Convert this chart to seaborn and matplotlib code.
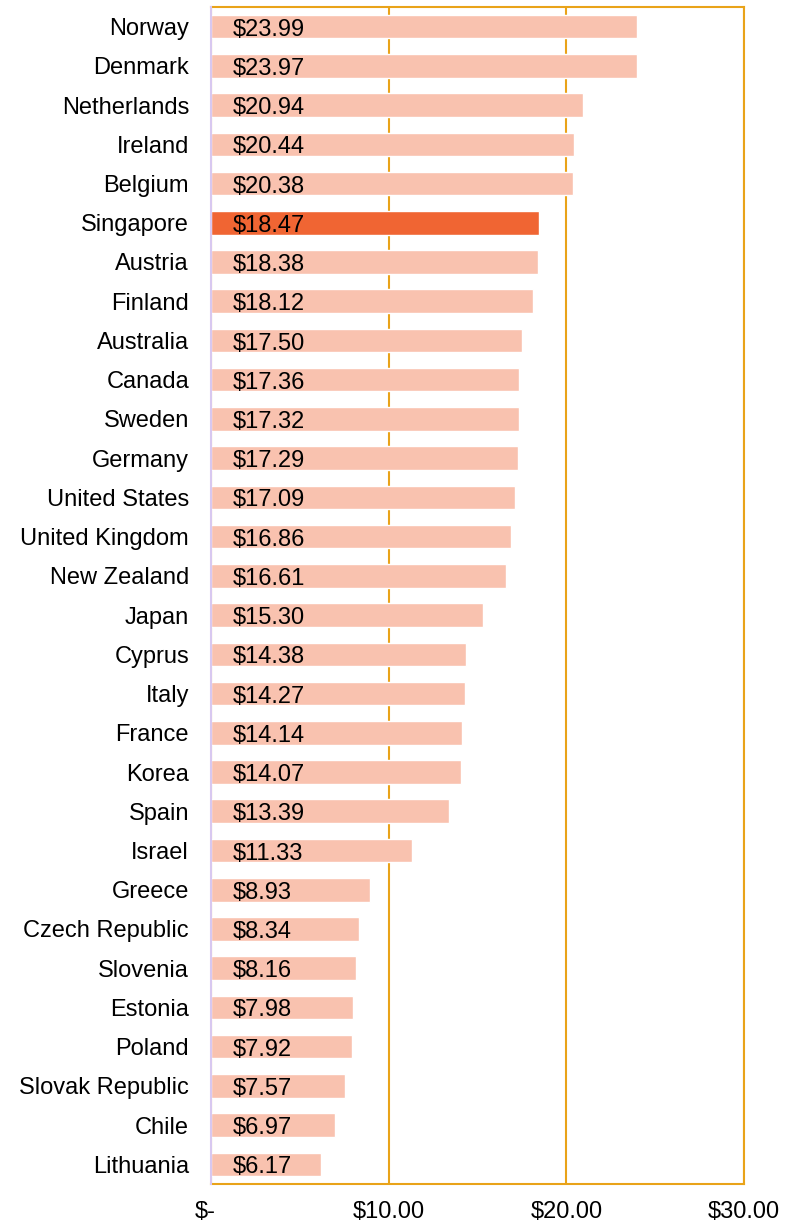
import matplotlib
matplotlib.use("Agg")
import matplotlib.pyplot as plt
import matplotlib.transforms as mtransforms
import seaborn as sns
import pandas as pd

# ---------------------------------------------------------------
# Data

countries = ['Norway', 'Denmark', 'Netherlands', 'Ireland', 'Belgium', 'Singapore',
             'Austria', 'Finland', 'Australia', 'Canada', 'Sweden', 'Germany',
             'United States', 'United Kingdom', 'New Zealand', 'Japan', 'Cyprus',
             'Italy', 'France', 'Korea', 'Spain', 'Israel', 'Greece',
             'Czech Republic', 'Slovenia', 'Estonia', 'Poland', 'Slovak Republic',
             'Chile', 'Lithuania']
wages = [23.99, 23.97, 20.94, 20.44, 20.38, 18.47, 18.38, 18.12, 17.50, 17.36,
         17.32, 17.29, 17.09, 16.86, 16.61, 15.30, 14.38, 14.27, 14.14, 14.07,
         13.39, 11.33, 8.93, 8.34, 8.16, 7.98, 7.92, 7.57, 6.97, 6.17]
highlight = 'Singapore'
x_ticks = [0, 10, 20, 30]
x_tick_labels = ['$-', '$10.00', '$20.00', '$30.00']

df = pd.DataFrame({'country': countries, 'wage': wages})
df['group'] = ['hi' if c == highlight else 'lo' for c in countries]

# ---------------------------------------------------------------
# Chart

gold = '#E9A319'
sns.set_style('white')
plt.rcParams['font.family'] = ['Liberation Sans', 'DejaVu Sans']

fig = plt.figure(figsize=(7.94, 12.23), dpi=100)
ax = fig.add_axes([0.2657, 0.0319, 0.6713, 0.9624])

sns.barplot(data=df, x='wage', y='country', hue='group', orient='h',
            palette={'hi': '#F06533', 'lo': '#F9C2AF'}, width=0.6,
            dodge=False, legend=False, saturation=1, ax=ax, zorder=3)

# value labels near the left end of each bar
for i, v in enumerate(wages):
    ax.annotate(f'${v:.2f}', xy=(0, i), xytext=(15.8, -2.2), textcoords='offset points',
                va='center', ha='left', fontsize=17, color='black', zorder=4)

ax.set_xlim(0, 30)
ax.set_ylim(len(countries) - 0.5, -0.5)
ax.set_xticks(x_ticks)
ax.set_xticklabels(x_tick_labels)
ax.tick_params(axis='both', length=0, labelsize=17, colors='black')
ax.tick_params(axis='y', pad=15.8)
ax.tick_params(axis='x', pad=12.5)
ax.set_xlabel('')
ax.set_ylabel('')

# "$-" sits a bit left of zero
lbl = ax.get_xticklabels()[0]
lbl.set_transform(lbl.get_transform() + mtransforms.ScaledTranslation(-0.06, 0, fig.dpi_scale_trans))

ax.xaxis.grid(True, color=gold, linewidth=1.5, zorder=1)
ax.yaxis.grid(False)
ax.set_axisbelow(True)

for side in ['top', 'right', 'bottom']:
    ax.spines[side].set_color(gold)
    ax.spines[side].set_linewidth(1.5)
ax.spines['left'].set_color('#D8C8F0')
ax.spines['left'].set_linewidth(1.5)
ax.spines['left'].set_zorder(5)

fig.savefig('out.png', dpi=100)
